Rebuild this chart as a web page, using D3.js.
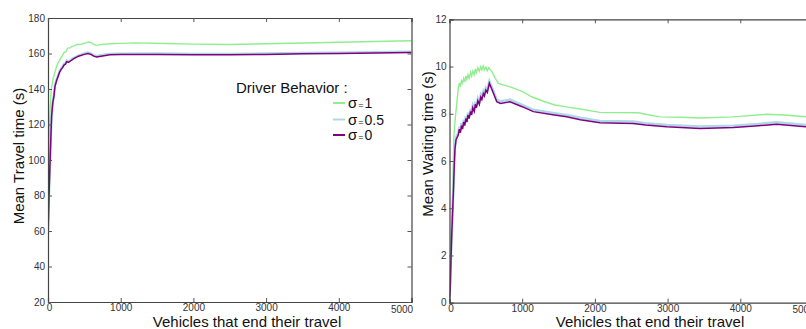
<!DOCTYPE html>
<html>
<head>
  <title>Travel and waiting time</title>
  <script src="https://d3js.org/d3.v7.min.js"></script>
  <style>
    body { margin: 0; background: #fff; }
    text { font-family: "Liberation Sans", Arial, sans-serif; }
  </style>
</head>
<body>
<svg width="806" height="329"></svg>
<script>
  // x = vehicles that ended their travel
  const xTicks = [0, 1000, 2000, 3000, 4000, 5000];
  const travelTicks = [20, 40, 60, 80, 100, 120, 140, 160, 180];
  const waitTicks = [0, 2, 4, 6, 8, 10, 12];

  const seriesNames = ["σ=1", "σ=0.5", "σ=0"];
  const seriesColors = ["#90ee90", "#add8e6", "#800080"];

  // mean travel time (s)
  const travelSigma1 = [[0,60],[5,80],[10,100],[20,118],[30,130],[45,140],[60,143],[70,146],[85,148],[100,150],[120,153],[140,155],[160,156],[175,157.5],[195,158.5],[220,160.5],[245,161],[270,163],[300,163.2],[330,164],[365,164.3],[400,165.2],[440,165],[480,165.5],[520,166],[560,166.5],[600,166],[630,165.2],[660,164.6],[720,165],[850,165.5],[1000,165.7],[1200,166],[1600,165.6],[2000,165.3],[2500,165.1],[3000,165.5],[3500,165.9],[4000,166.3],[4500,166.8],[5000,167.2]];
  const travelSigma05 = [[0,58],[8,70],[14,80],[25,95],[37,110],[50,125],[65,132],[82,137],[96,142],[120,145.5],[142,148],[160,150],[180,151.5],[200,152.5],[220,154],[240,154.5],[257,156],[280,155.5],[300,156],[350,157.5],[420,159],[500,160],[550,160.5],[590,160],[630,159],[670,158.5],[730,159],[850,159.8],[1000,159.9],[1500,160],[2000,159.8],[2500,159.8],[3000,160],[3500,160.3],[4000,160.5],[4500,160.8],[5000,161]];
  const travelSigma0 = [[0,58],[8,70],[14,80],[25,95],[37,110],[50,125],[65,132],[82,136],[96,141.5],[120,145],[142,147.5],[160,149.5],[180,151],[200,152],[220,153.5],[240,154],[257,155.4],[280,155],[300,155.5],[350,157],[420,158.5],[500,159.5],[550,160],[590,159.5],[630,158.5],[670,158],[730,158.5],[850,159.3],[1000,159.4],[1500,159.5],[2000,159.3],[2500,159.3],[3000,159.5],[3500,159.8],[4000,160],[4500,160.3],[5000,160.5]];

  // mean waiting time (s)
  const waitSigma1 = [[0,0.1],[15,1.5],[30,3.0],[50,5.5],[60,7.0],[75,7.66],[98,8.37],[121,9.08],[135,9.3],[150,9.15],[165,9.4],[180,9.3],[195,9.5],[210,9.35],[225,9.6],[240,9.45],[255,9.65],[270,9.5],[290,9.75],[305,9.6],[320,9.8],[340,9.65],[355,9.9],[370,9.75],[390,9.95],[410,9.8],[430,10.0],[445,9.85],[465,10.02],[480,9.85],[500,9.98],[520,9.82],[540,9.95],[557,9.88],[590,9.75],[620,9.55],[672,9.29],[760,9.2],[855,9.12],[1000,8.95],[1130,8.72],[1300,8.52],[1451,8.37],[1650,8.27],[1818,8.19],[2070,8.06],[2300,8.05],[2597,8.04],[2750,7.95],[2896,7.87],[3200,7.85],[3446,7.82],[3900,7.87],[4363,7.98],[4600,7.95],[5000,7.85]];
  const waitSigma05 = [[0,0.3],[10,0.7],[20,1.9],[30,2.9],[40,3.7],[55,4.9],[65,5.9],[75,6.6],[90,7.0],[121,7.2],[135,7.45],[150,7.3],[165,7.6],[180,7.45],[195,7.75],[210,7.6],[225,7.9],[240,7.75],[255,8.05],[270,7.9],[290,8.2],[305,8.05],[320,8.35],[340,8.2],[355,8.5],[370,8.35],[390,8.65],[410,8.5],[430,8.8],[445,8.7],[465,8.95],[480,8.85],[500,9.1],[520,9.0],[548,9.38],[600,9.0],[650,8.6],[700,8.53],[832,8.6],[1000,8.38],[1153,8.17],[1400,8.05],[1612,7.95],[1800,7.83],[2070,7.7],[2525,7.67],[2700,7.6],[2988,7.53],[3446,7.46],[3904,7.5],[4200,7.56],[4500,7.64],[4900,7.53],[5000,7.5]];
  const waitSigma0 = [[0,0.2],[10,0.6],[20,1.8],[30,2.8],[40,3.6],[55,4.8],[65,5.8],[75,6.5],[90,6.9],[121,7.1],[135,7.35],[150,7.2],[165,7.5],[180,7.35],[195,7.65],[210,7.5],[225,7.8],[240,7.65],[255,7.95],[270,7.8],[290,8.1],[305,7.95],[320,8.25],[340,8.1],[355,8.4],[370,8.25],[390,8.55],[410,8.4],[430,8.7],[445,8.6],[465,8.85],[480,8.75],[500,9.0],[520,8.9],[548,9.29],[600,8.9],[650,8.51],[700,8.44],[832,8.51],[1000,8.3],[1153,8.09],[1400,7.97],[1612,7.87],[1800,7.75],[2070,7.62],[2525,7.59],[2700,7.52],[2988,7.45],[3446,7.38],[3904,7.42],[4200,7.48],[4500,7.56],[4900,7.45],[5000,7.42]];

  const svg = d3.select("svg");

  function drawPanel(p) {
    const x = d3.scaleLinear().domain([0, 5000]).range([p.left, p.right]);
    const y = d3.scaleLinear().domain(p.yDomain).range([p.bottom, p.top]);
    const g = svg.append("g");

    const clipId = "clip" + Math.round(p.left);
    g.append("clipPath").attr("id", clipId).append("rect")
      .attr("x", p.left).attr("y", p.top)
      .attr("width", p.right - p.left).attr("height", p.bottom - p.top);

    const line = d3.line().x(d => x(d[0])).y(d => y(d[1]));
    const widths = [1.4, 2.4, 1.5];
    p.series.forEach((s, i) => {
      g.append("path").datum(s)
        .attr("clip-path", "url(#" + clipId + ")")
        .attr("fill", "none")
        .attr("stroke", seriesColors[i])
        .attr("stroke-width", widths[i])
        .attr("d", line);
    });

    // axes with inward ticks, matplotlib style
    const bottom = g.append("g").attr("transform", "translate(0," + p.bottom + ")")
      .call(d3.axisBottom(x).tickValues(xTicks).tickSize(-4).tickPadding(2).tickFormat(d3.format("d")));
    g.append("g").attr("transform", "translate(" + p.left + ",0)")
      .call(d3.axisLeft(y).tickValues(p.yTicks).tickSize(-4).tickPadding(3));
    g.append("g").attr("transform", "translate(0," + p.top + ")")
      .call(d3.axisTop(x).tickValues(xTicks).tickSize(-4).tickFormat(""));
    g.append("g").attr("transform", "translate(" + p.right + ",0)")
      .call(d3.axisRight(y).tickValues(p.yTicks).tickSize(-4).tickFormat(""));

    g.selectAll(".domain").attr("stroke", "#444").attr("stroke-width", 1.2);
    g.selectAll(".tick line").attr("stroke", "#555");
    g.selectAll(".tick text").attr("fill", "#333").style("font-size", "10px")
      .style("font-family", "'Liberation Sans', Arial, sans-serif");
    bottom.selectAll(".tick text").filter(d => d === 5000).attr("dx", -10).attr("dy", "0.85em");
    bottom.selectAll(".tick text").filter(d => d === 0).attr("dx", 1);

    g.append("text")
      .attr("x", p.xLabelX).attr("y", 327)
      .attr("text-anchor", "middle")
      .style("font-size", "15px").attr("fill", "#111")
      .text("Vehicles that end their travel");

    g.append("text")
      .attr("transform", "translate(" + p.yLabelX + "," + p.yLabelY + ") rotate(-90)")
      .attr("text-anchor", "middle")
      .style("font-size", "15px").attr("fill", "#111")
      .text(p.yLabel);
  }

  drawPanel({
    left: 48, right: 411.5, top: 18, bottom: 302,
    yDomain: [20, 180], yTicks: travelTicks,
    series: [travelSigma1, travelSigma05, travelSigma0],
    yLabel: "Mean Travel time (s)", yLabelX: 24, yLabelY: 156,
    xLabelX: 247
  });

  drawPanel({
    left: 449.5, right: 813, top: 19.3, bottom: 302.7,
    yDomain: [0, 12], yTicks: waitTicks,
    series: [waitSigma1, waitSigma05, waitSigma0],
    yLabel: "Mean Waiting time (s)", yLabelX: 433, yLabelY: 144,
    xLabelX: 650
  });

  // legend inside the left panel
  const legend = svg.append("g");
  legend.append("text")
    .attr("x", 236).attr("y", 93)
    .style("font-size", "15px").attr("fill", "#111")
    .text("Driver Behavior :");

  const legendRows = [103, 119.5, 135];
  seriesNames.forEach((name, i) => {
    const row = legend.append("g").attr("transform", "translate(0," + legendRows[i] + ")");
    row.append("line")
      .attr("x1", 333).attr("x2", 345)
      .attr("stroke", seriesColors[i]).attr("stroke-width", 2);
    const parts = name.split("=");
    const t = row.append("text").attr("x", 348).attr("y", 5).attr("fill", "#111");
    t.append("tspan").style("font-size", "15px").style("font-weight", "500").text(parts[0]);
    t.append("tspan").style("font-size", "9px").attr("dx", 1).text("=");
    t.append("tspan").style("font-size", "14px").attr("dx", 1).text(parts[1]);
  });
</script>
</body>
</html>
